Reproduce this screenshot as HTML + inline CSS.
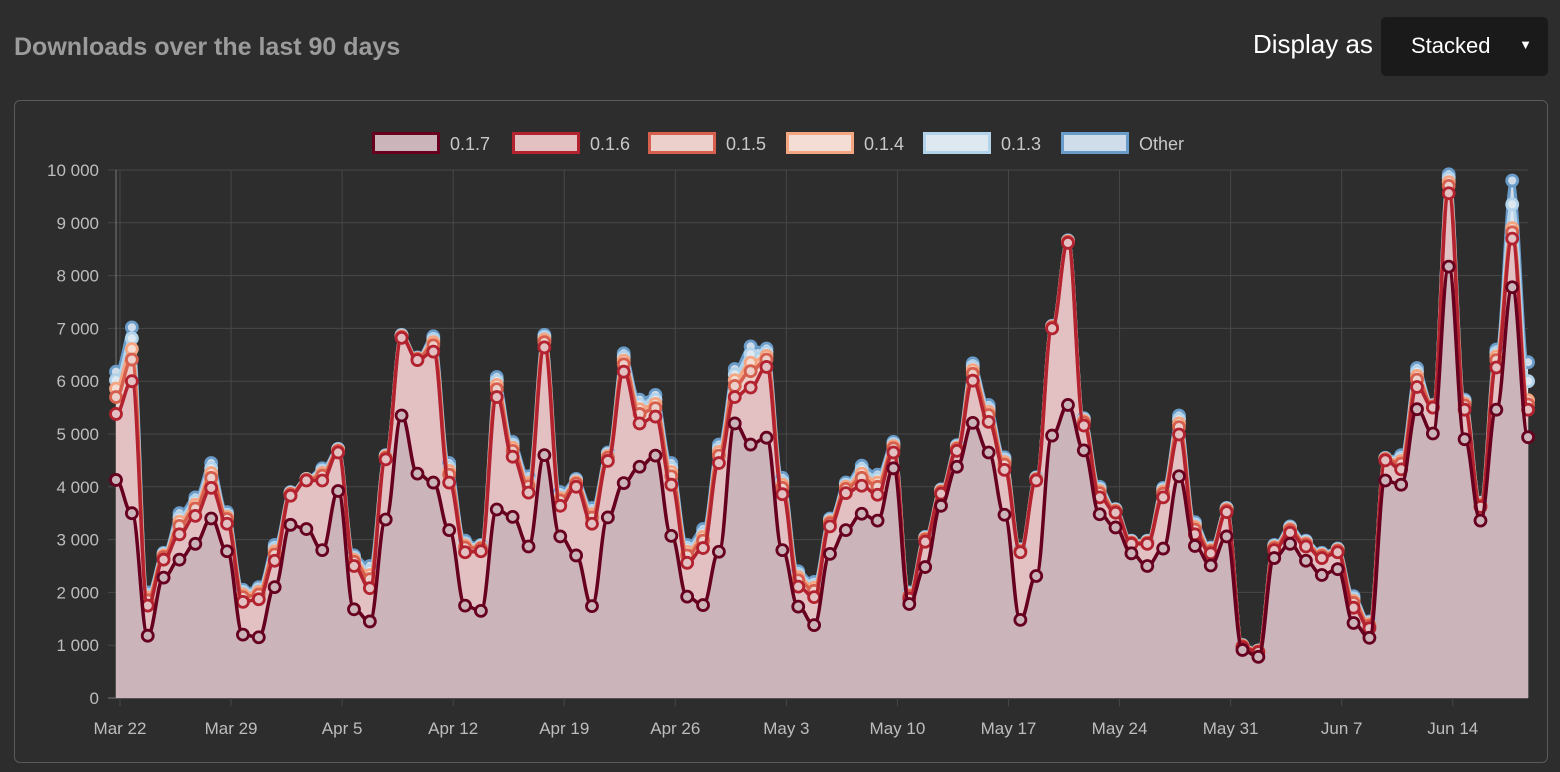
<!DOCTYPE html>
<html><head><meta charset="utf-8">
<style>
body{margin:0;background:#2d2d2d;width:1560px;height:772px;overflow:hidden;font-family:"Liberation Sans",sans-serif;}
#title{position:absolute;left:14px;top:33px;font-size:25px;font-weight:bold;color:#9b9b9b;}
#disp{position:absolute;left:1253px;top:29px;font-size:26px;color:#fff;}
#sel{position:absolute;left:1381px;top:17px;width:167px;height:59px;background:#1a1a1a;border-radius:5px;color:#fff;font-size:22px;}
#sel span{position:absolute;left:30px;top:16px;}
#sel i{position:absolute;right:16px;top:20px;font-style:normal;font-size:13px;}
#panel{position:absolute;left:14px;top:100px;width:1532px;height:661px;border:1px solid #5a5a5a;border-radius:6px;}
svg{position:absolute;left:0;top:0;}
</style></head><body>
<div id="title">Downloads over the last 90 days</div>
<div id="disp">Display as</div>
<div id="sel"><span>Stacked</span><i>▼</i></div>
<div id="panel"></div>
<svg id="c" width="1560" height="772"></svg>
<script>
const seriesNames=["0.1.7","0.1.6","0.1.5","0.1.4","0.1.3","Other"];
const weekLabels=["Mar 22","Mar 29","Apr 5","Apr 12","Apr 19","Apr 26","May 3","May 10","May 17","May 24","May 31","Jun 7","Jun 14"];
const yTicks=[0,1000,2000,3000,4000,5000,6000,7000,8000,9000,10000];
const yTickLabels=["0","1 000","2 000","3 000","4 000","5 000","6 000","7 000","8 000","9 000","10 000"];
const v017=[4130,3500,1180,2280,2620,2920,3400,2780,1200,1150,2100,3280,3200,2800,3920,1680,1450,3380,5350,4250,4080,3180,1750,1650,3570,3430,2870,4600,3060,2700,1740,3420,4070,4380,4590,3070,1920,1760,2770,5200,4800,4930,2800,1730,1380,2730,3180,3490,3360,4350,1780,2480,3640,4380,5210,4650,3470,1480,2310,4970,5550,4690,3480,3230,2740,2500,2830,4200,2880,2510,3060,910,780,2650,2920,2600,2330,2440,1420,1140,4120,4040,5470,5010,8170,4900,3360,5460,7780,4940];
const v016=[1250,2500,570,340,480,530,580,520,620,720,500,550,920,1320,730,820,630,1140,1470,2150,2480,900,1010,1130,2130,1140,1020,2040,580,1300,1560,1070,2110,820,740,970,640,1080,1680,500,1080,1340,1060,380,530,520,700,530,490,300,100,480,230,300,800,580,850,1280,1810,2030,3070,470,320,280,180,420,970,790,220,230,460,50,90,150,210,270,320,320,290,180,380,290,420,490,1390,560,260,800,920,520];
const v015=[320,410,100,50,160,140,190,90,90,90,120,30,10,90,30,80,170,30,20,20,120,150,90,50,150,110,120,100,100,60,120,60,140,180,160,160,140,140,140,210,310,140,120,120,120,60,80,150,150,80,50,40,30,40,130,130,100,20,20,20,20,60,80,30,20,20,70,140,90,40,30,20,10,40,50,40,40,30,90,50,20,110,140,20,140,80,30,140,120,100];
const v014=[160,200,50,30,80,70,90,40,50,50,60,10,10,50,10,40,80,20,10,10,60,70,40,20,80,60,60,50,50,30,60,30,70,90,80,80,70,70,70,110,160,70,60,60,60,30,40,80,80,40,20,20,20,20,70,60,50,10,10,10,10,30,40,10,10,10,40,70,50,20,20,10,10,20,20,20,20,10,40,30,10,50,70,10,70,40,20,70,80,80];
const v013=[160,200,50,30,80,70,90,40,50,50,60,20,10,50,20,40,80,20,20,10,60,70,40,30,80,60,60,50,50,30,60,40,70,90,80,80,70,70,70,110,160,70,60,60,60,30,40,80,80,40,30,20,20,30,70,60,50,20,20,10,10,30,40,20,20,20,40,80,50,30,20,10,10,20,30,30,20,20,50,30,10,60,80,10,80,40,20,70,450,360];
const vOther=[160,210,50,20,80,70,100,50,40,40,60,10,0,40,10,40,90,10,10,10,50,80,50,20,70,50,70,40,60,30,60,30,70,90,90,90,60,80,70,100,150,70,70,50,50,30,40,70,70,40,20,10,10,20,60,70,40,10,10,10,10,20,40,10,10,10,30,70,40,20,10,0,0,20,20,20,20,10,40,20,10,50,70,10,70,30,10,60,450,360];
const seriesVals=[v017,v016,v015,v014,v013,vOther];
const lineCols=["#67001f","#b2222f","#d6604d","#f4a582","#b3d3ea","#6a9cc9"];
const fillCols=["#cbb4ba","#e3c1c3","#ecd0cc","#f3ddd5","#dde8f1","#cfdce9"];
const NS="http://www.w3.org/2000/svg";
const svg=document.getElementById('c');
const X0=116,DX=15.866,Y0=698,YS=0.0528;
const xs=i=>X0+i*DX, ys=v=>Y0-v*YS;
function mk(t,a,p){const e=document.createElementNS(NS,t);for(const k in a)e.setAttribute(k,a[k]);(p||svg).appendChild(e);return e;}
yTicks.forEach((t,k)=>{
  const y=ys(t);
  const g=mk('line',{x1:108,x2:1528,y1:y,y2:y,stroke:k===0?'#777':'#474747','stroke-width':1});
  
  
  const tx=mk('text',{x:99,y:y+6,'text-anchor':'end',fill:'#bdbdbd','font-size':17});
  tx.textContent=yTickLabels[k];
  
  
});
weekLabels.forEach((l,k)=>{
  const x=xs(7*k)+4;
  const g=mk('line',{x1:x,x2:x,y1:170,y2:706,stroke:'#474747','stroke-width':1});
  
  
  const tx=mk('text',{x:x,y:734,'text-anchor':'middle',fill:'#bdbdbd','font-size':17});
  tx.textContent=l;
  
  
});
mk('line',{x1:116,x2:116,y1:170,y2:698,stroke:'#777'});
const cum=[];let run=v017.map(()=>0);
seriesVals.forEach(s=>{run=run.map((r,i)=>r+s[i]);cum.push(run.slice());});
const smooth=pts=>{let d='M'+pts[0][0]+','+pts[0][1];for(let i=1;i<pts.length;i++){const p0=pts[i-1],p1=pts[i];const cx=(p1[0]-p0[0])*0.4;d+=` C${p0[0]+cx},${p0[1]} ${p1[0]-cx},${p1[1]} ${p1[0]},${p1[1]}`;}return d;};
for(let s=seriesVals.length-1;s>=0;s--){
  const top=cum[s].map((v,i)=>[xs(i),ys(v)]);
  const area=mk('path',{d:smooth(top)+` L${xs(89)},${Y0} L${X0},${Y0} Z`,fill:fillCols[s]});
  
  
}
for(let s=seriesVals.length-1;s>=0;s--){
  const top=cum[s].map((v,i)=>[xs(i),ys(v)]);
  const ln=mk('path',{d:smooth(top),fill:'none',stroke:lineCols[s],'stroke-width':3.5});
  
  
  top.forEach(p=>{
    const c=mk('circle',{cx:p[0],cy:p[1],r:5.5,fill:fillCols[s],stroke:lineCols[s],'stroke-width':2.8});
    
    
  });
}
const legX=[372,512,648,786,923,1061];
seriesNames.forEach((n,k)=>{
  const r=mk('rect',{x:legX[k]+1.5,y:133.5,width:65,height:19,fill:fillCols[k],stroke:lineCols[k],'stroke-width':3});
  
  
  const t=mk('text',{x:legX[k]+78,y:150,fill:'#c8c8c8','font-size':18});
  t.textContent=n;
  
  
});
</script>
</body></html>
